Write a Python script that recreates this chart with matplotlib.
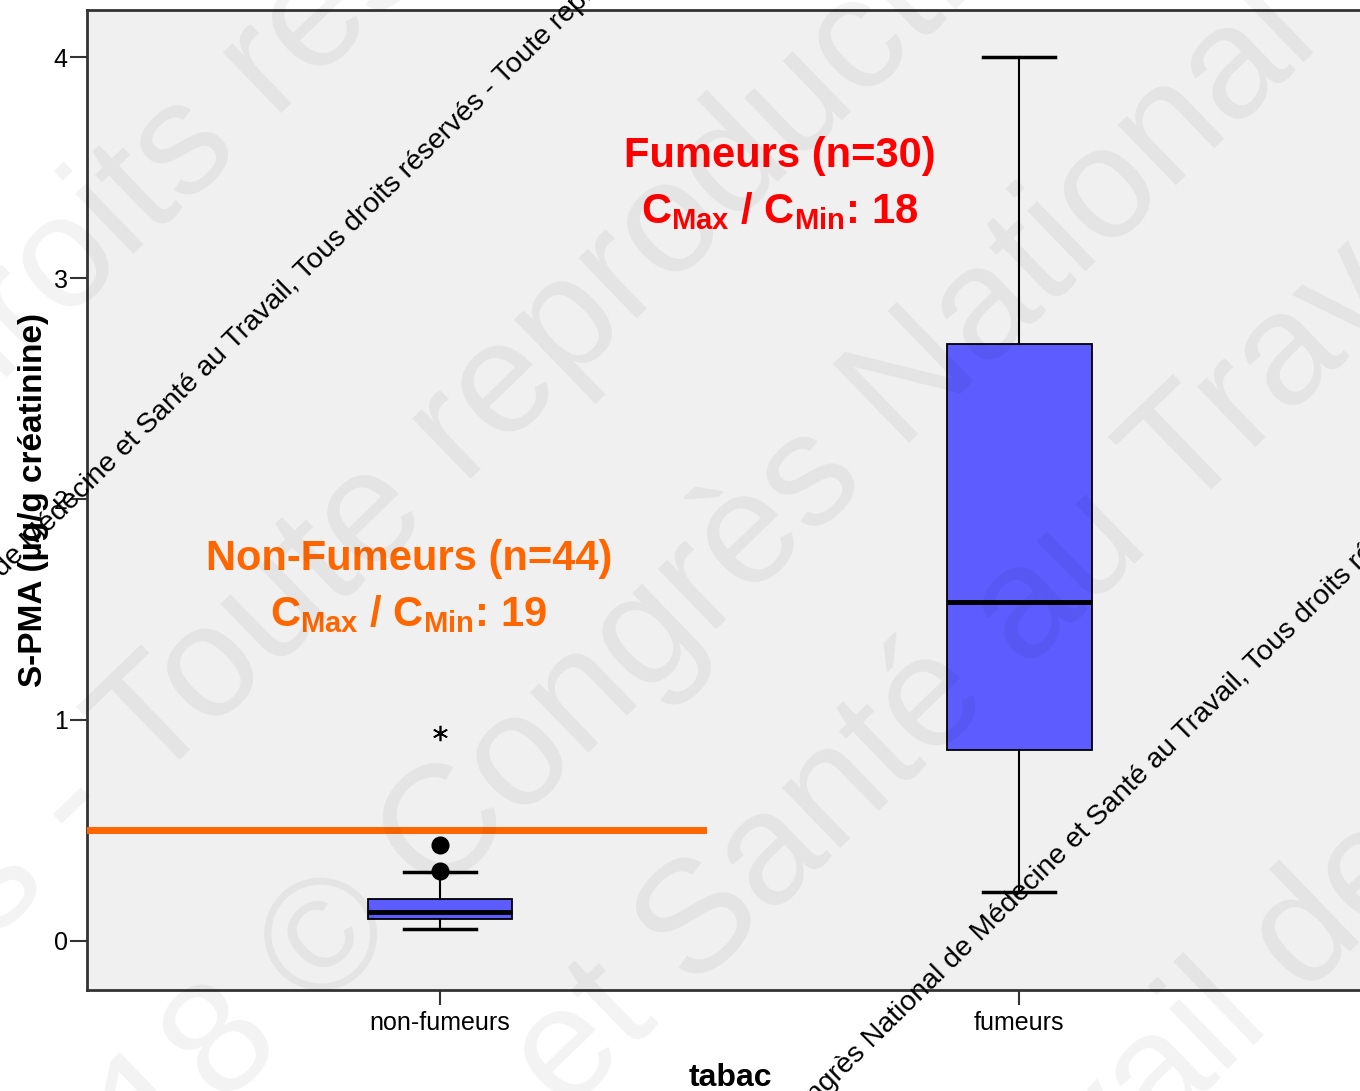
import matplotlib

matplotlib.use("Agg")

from matplotlib import pyplot as plt  # noqa: E402

plt.rcParams["font.family"] = ["Liberation Sans", "DejaVu Sans"]
plt.rcParams["mathtext.fontset"] = "custom"
plt.rcParams["mathtext.rm"] = "Liberation Sans"
plt.rcParams["mathtext.bf"] = "Liberation Sans:bold"

# values (µg/g créatinine)
groups = ["non-fumeurs", "fumeurs"]
whisker_low = [0.054, 0.222]
q1 = [0.100, 0.864]
median = [0.131, 1.534]
q3 = [0.190, 2.700]
whisker_high = [0.312, 4.000]
outliers = [[0.317, 0.434], []]
extremes = [[0.939], []]
threshold = 0.5
y_ticks = [0, 1, 2, 3, 4]

labels = ["Non-Fumeurs (n=44)", "Fumeurs (n=30)"]
ratios = [19, 18]
label_colors = ["#ff6600", "#ff0000"]
label_x = [-0.054, 0.587]
label_y = [1.679, 3.502]
ratio_y = [1.425, 3.249]

W, H = 1360, 1091
BOX_BLUE = "#5c5cff"
WM_TEXT = "Congrès National de Médecine et Santé au Travail, Tous droits réservés - Toute reproduction interdite"


def px(x, y):
    return x / W, 1 - y / H


fig = plt.figure(figsize=(W / 100, H / 100), dpi=100)
ax = fig.add_axes([87 / W, 1 - 990 / H, 1286 / W, 980 / H])
ax.set_facecolor("#f0f0f0")

stats = [
    dict(label=g, whislo=lo, q1=a, med=m, q3=b, whishi=hi, fliers=[])
    for g, lo, a, m, b, hi in zip(groups, whisker_low, q1, median, q3, whisker_high)
]
positions = list(range(len(groups)))
ax.bxp(
    stats,
    positions=positions,
    widths=0.25,
    capwidths=0.124,
    patch_artist=True,
    showfliers=False,
    boxprops=dict(facecolor=BOX_BLUE, edgecolor="black", linewidth=1.3),
    medianprops=dict(color="black", linewidth=3.5),
    whiskerprops=dict(color="black", linewidth=1.5),
    capprops=dict(color="black", linewidth=2.5),
)
for pos, vals in zip(positions, outliers):
    ax.plot([pos] * len(vals), vals, "o", color="black", markersize=12, zorder=4)
for pos, vals in zip(positions, extremes):
    ax.plot([pos] * len(vals), vals, marker=(6, 2, 0), color="black",
            markersize=11, markeredgewidth=1.2, linestyle="none", zorder=4)

xlim = (-0.6097, 1.611)
ax.set_xlim(xlim)
ax.set_ylim(-0.222, 4.213)
line_end = 0.454
ax.axhline(threshold, xmin=0, xmax=(line_end - xlim[0]) / (xlim[1] - xlim[0]),
           color="#ff6600", linewidth=5, zorder=5)

for i in range(len(groups)):
    ax.text(label_x[i], label_y[i], labels[i], color=label_colors[i], fontsize=30,
            fontweight="bold", ha="center", va="baseline", zorder=6)
    ax.text(label_x[i], ratio_y[i],
            r"$\mathbf{C}_{\mathbf{Max}}$ / $\mathbf{C}_{\mathbf{Min}}$: %d" % ratios[i],
            color=label_colors[i], fontsize=30, fontweight="bold",
            ha="center", va="baseline", zorder=6)

ax.set_yticks(y_ticks)
ax.set_xticks(positions, groups)
ax.tick_params(axis="y", length=12, width=1.5, pad=2, labelsize=18, color="#333333")
ax.tick_params(axis="x", length=11, width=1.5, pad=4, labelsize=18, color="#333333")
for side in ["left", "bottom", "top", "right"]:
    ax.spines[side].set_color("#333333")
    ax.spines[side].set_linewidth(2)
ax.set_ylabel("S-PMA (µg/g créatinine)", fontsize=24, fontweight="bold", labelpad=3)
ax.set_xlabel("tabac", fontsize=23, fontweight="bold", labelpad=20)

# faint watermark, baseline start of each line in pixels
big_lines = [
    ("Tous droits réservés", -313, 688),
    ("réservés - Toute reproduction", -390, 1310),
    ("2018 © Congrès National", 30, 1292),
    ("et Santé au Travail", 565, 1115),
    ("Travail de Médecine", 932, 1357),
]
for s, x0, y0 in big_lines:
    fig.text(*px(x0, y0), s, fontsize=115, color="black", alpha=0.05,
             rotation=44, rotation_mode="anchor", ha="left", va="baseline", zorder=10)

for x0, y0 in [(-160, 738), (790, 1130)]:
    fig.text(*px(x0, y0), WM_TEXT, fontsize=20.5, color="black",
             rotation=44.5, rotation_mode="anchor", ha="left", va="baseline", zorder=11)

fig.savefig("out.png", dpi=100)
